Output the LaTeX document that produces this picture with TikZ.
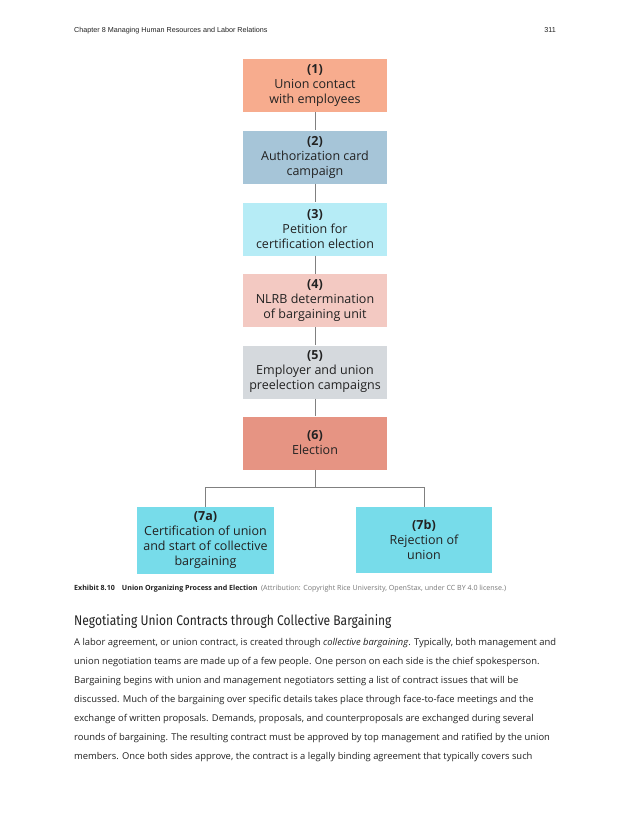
\documentclass[tikz,border=0pt]{standalone}
\usepackage{fontspec}
\setmainfont{Open Sans}
\newfontfamily\headerfont{Liberation Sans}
\newfontfamily\headingfont{Fira Sans}
\usepackage{xcolor}
\usepackage{tikz}
\usetikzlibrary{positioning}

\definecolor{stepone}{HTML}{F7AC8E}
\definecolor{steptwo}{HTML}{A6C5D8}
\definecolor{stepthree}{HTML}{B6ECF6}
\definecolor{stepfour}{HTML}{F3C9C2}
\definecolor{stepfive}{HTML}{D5D9DD}
\definecolor{stepsix}{HTML}{E69483}
\definecolor{stepseven}{HTML}{77DCEA}
\definecolor{wiregray}{HTML}{808080}
\definecolor{textdark}{HTML}{222222}
\definecolor{attrgray}{HTML}{777777}

\tikzset{
	stagebox/.style={shape=rectangle, inner sep=0, minimum width=144pt, minimum height=53pt, align=center, text=textdark, font=\fontsize{12.5}{15}\selectfont},
	wire/.style={draw=wiregray, line width=0.9pt},
}

\begin{document}
\begin{tikzpicture}[x=1pt, y=-1pt]
	\useasboundingbox[fill=white] (0, 0) rectangle (630, 815);
	% Page header:
	\node[anchor=base west, inner sep=0, font=\headerfont\fontsize{7.2}{8}\selectfont, text=textdark] (Head) at (74, 32){Chapter 8 Managing Human Resources and Labor Relations};
	\node[anchor=base east, inner sep=0, font=\headerfont\fontsize{7.2}{8}\selectfont, text=textdark] (Page) at (556, 32){311};
	% Stages:
	\node[stagebox, fill=stepone] (S1) at (315, 85.5){\textbf{(1)}\\Union contact\\with employees};
	\node[stagebox, fill=steptwo] (S2) at (315, 157){\textbf{(2)}\\Authorization card\\campaign};
	\node[stagebox, fill=stepthree] (S3) at (315, 229){\textbf{(3)}\\Petition for\\certification election};
	\node[stagebox, fill=stepfour] (S4) at (315, 300.5){\textbf{(4)}\\NLRB determination\\of bargaining unit};
	\node[stagebox, fill=stepfive] (S5) at (315, 372){\textbf{(5)}\\Employer and union\\preelection campaigns};
	\node[stagebox, fill=stepsix] (S6) at (315, 443){\textbf{(6)}\\Election};
	\node[stagebox, fill=stepseven, minimum width=137pt, minimum height=67pt] (S7a) at (205.5, 540.5){\textbf{(7a)}\\Certification of union\\and start of collective\\bargaining};
	\node[stagebox, fill=stepseven, minimum width=136pt, minimum height=66pt] (S7b) at (424, 540){\textbf{(7b)}\\Rejection of\\union};
	% Connectors:
	\coordinate (Fork) at (315, 487);
	\draw[wire] (S1) -- (S2);
	\draw[wire] (S2) -- (S3);
	\draw[wire] (S3) -- (S4);
	\draw[wire] (S4) -- (S5);
	\draw[wire] (S5) -- (S6);
	\draw[wire] (S6) -- (Fork);
	\draw[wire] (Fork) -| (S7a);
	\draw[wire] (Fork) -| (S7b);
	% Caption, heading and body text:
	\node[anchor=base west, inner sep=0, font=\fontsize{7.1}{9}\selectfont, text=textdark] (Caption) at (74, 590){\textbf{Exhibit 8.10}\quad\textbf{Union Organizing Process and Election}\enspace\textcolor{attrgray}{(Attribution: Copyright Rice University, OpenStax, under CC BY 4.0 license.)}};
	\node[anchor=base west, inner sep=0, font=\headingfont\fontsize{14}{16}\selectfont, text=textdark] (Heading) at (74, 625){\scalebox{0.86}[1]{Negotiating Union Contracts through Collective Bargaining}};
	\node[anchor=north west, inner sep=0, align=left, font=\fontsize{9.4}{19}\selectfont, text=textdark] (Body) at (74, 638){A labor agreement, or union contract, is created through \textit{collective bargaining}. Typically, both management and\\union negotiation teams are made up of a few people. One person on each side is the chief spokesperson.\\Bargaining begins with union and management negotiators setting a list of contract issues that will be\\discussed. Much of the bargaining over specific details takes place through face-to-face meetings and the\\exchange of written proposals. Demands, proposals, and counterproposals are exchanged during several\\rounds of bargaining. The resulting contract must be approved by top management and ratified by the union\\members. Once both sides approve, the contract is a legally binding agreement that typically covers such};
\end{tikzpicture}
\end{document}
